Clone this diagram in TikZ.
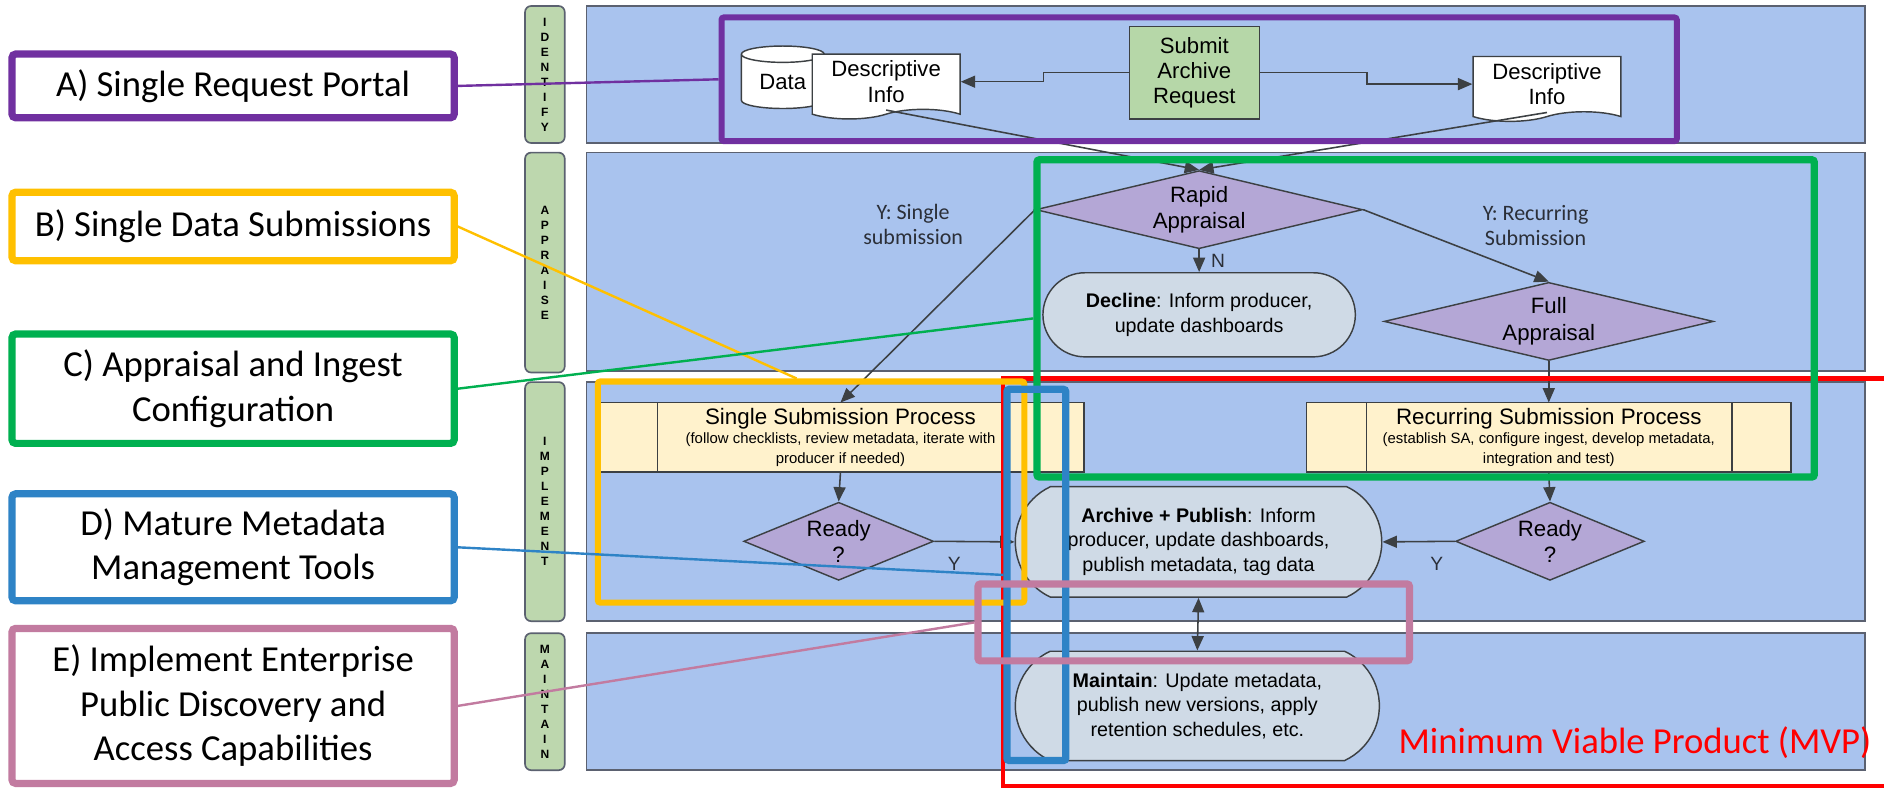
\documentclass[tikz,border=0pt]{standalone}
\usepackage{fontspec}
\setmainfont{Liberation Sans}
\newfontfamily\calibri{Carlito}
\usetikzlibrary{positioning,arrows.meta,shapes.geometric,shapes.misc,shapes.symbols}

\definecolor{lanefill}{HTML}{A9C3EE}
\definecolor{laneline}{HTML}{5B6170}
\definecolor{tagfill}{HTML}{BDD7AE}
\definecolor{stepfill}{HTML}{B6D7A8}
\definecolor{decfill}{HTML}{B4A7D6}
\definecolor{endfill}{HTML}{CFDAE6}
\definecolor{procfill}{HTML}{FFF2CC}
\definecolor{ink}{HTML}{3C4043}
\definecolor{notetext}{HTML}{2B2F38}
\definecolor{cpurple}{HTML}{7030A0}
\definecolor{corange}{HTML}{FFC000}
\definecolor{cgreen}{HTML}{00B050}
\definecolor{cblue}{HTML}{2E83C6}
\definecolor{cpink}{HTML}{C27BA0}

\tikzset{
  lane/.style={draw=laneline,fill=lanefill,line width=1.4pt,minimum width=1064pt,inner sep=0pt},
  lanetag/.style={draw=laneline,fill=tagfill,line width=1.4pt,rounded corners=5pt,minimum width=33pt,inner sep=0pt,align=center,font=\bfseries\fontsize{10}{12.5}\selectfont},
  docnode/.style={tape,tape bend top=none,tape bend bottom=in and out,tape bend height=8pt,draw=ink,fill=white,line width=1.2pt,minimum width=123pt,minimum height=54pt,inner sep=0pt,align=center,font=\fontsize{18.4}{21.5}\selectfont},
  stepbox/.style={rectangle,draw=ink,fill=stepfill,line width=1.2pt,inner sep=0pt,align=center,font=\fontsize{18.4}{21}\selectfont},
  choice/.style={diamond,draw=ink,fill=decfill,line width=1.2pt,inner sep=0pt,align=center,font=\fontsize{18.5}{22}\selectfont},
  terminal/.style={rounded rectangle,draw=ink,fill=endfill,line width=1.2pt,inner sep=0pt,align=center,font=\fontsize{16.4}{20.5}\selectfont},
  procbox/.style={rectangle,draw=ink,fill=procfill,line width=1.2pt,minimum height=58pt,inner sep=0pt,outer sep=0pt,align=center,font=\fontsize{12.4}{16}\selectfont},
  note/.style={align=center,text=notetext,font=\calibri\fontsize{18.3}{21}\selectfont},
  flow/.style={color=ink,line width=1.3pt,->},
  callout/.style={rectangle,draw=#1,fill=white,line width=6pt,rounded corners=3pt,minimum width=368pt,inner sep=0pt,align=center,font=\calibri\fontsize{30.5}{37}\selectfont},
  hilite/.style={rectangle,draw=#1,line width=6pt,rounded corners=2pt,inner sep=0pt},
  pointer/.style={draw=#1,line width=2pt}
}

\begin{document}
\begin{tikzpicture}[x=1pt,y=-1pt,>={Triangle[length=12pt,width=10pt]}]
\useasboundingbox (0,0) rectangle (1568,657);

% swimlanes
\node (identifylane) at (1020,62) [lane,minimum height=114pt] {};
\node (appraiselane) at (1020,218) [lane,minimum height=182pt] {};
\node (implementlane) at (1020,417.5) [lane,minimum height=199pt] {};
\node (maintainlane) at (1020,584) [lane,minimum height=114pt] {};
\node (identifytag) at (453.5,62) [lanetag,minimum height=114pt] {I\\D\\E\\N\\T\\I\\F\\Y};
\node (appraisetag) at (453.5,218.5) [lanetag,minimum height=183pt] {A\\P\\P\\R\\A\\I\\S\\E};
\node (implementtag) at (453.5,417.5) [lanetag,minimum height=199pt] {I\\M\\P\\L\\E\\M\\E\\N\\T};
\node (maintaintag) at (453.5,584) [lanetag,minimum height=114pt] {M\\A\\I\\N\\T\\A\\I\\N};

% identify
\node (data) at (651.5,68) [cylinder,shape border rotate=90,aspect=0.35,draw=ink,fill=white,line width=1.2pt,minimum width=69pt,minimum height=52pt,inner sep=0pt,font=\fontsize{18.4}{21}\selectfont] {Data};
\node (descl) at (737.5,68) [docnode] {Descriptive\\Info};
\node (submit) at (994,60.5) [stepbox,minimum width=108pt,minimum height=77pt] {Submit\\Archive\\Request};
\node (descr) at (1287.5,70) [docnode] {Descriptive\\Info};
\draw[flow] (submit.west) -- ++(-71,0) |- (descl.east);
\draw[flow] (submit.east) -- ++(89,0) |- (descr.west);

% appraise
\node (rapid) at (998,174.5) [choice,minimum width=272pt,minimum height=65pt,aspect=4.2] {Rapid\\Appraisal};
\node (decline) at (998,262) [terminal,minimum width=260pt,minimum height=70pt] {\textbf{Decline}: Inform producer,\\update dashboards};
\node (full) at (1289,267.5) [choice,minimum width=274pt,minimum height=65pt,aspect=4.2] {Full\\Appraisal};
\node (ysingle) at (760,187) [note] {Y: Single\\submission};
\node (yrecur) at (1278,188) [note] {Y: Recurring\\Submission};
\path[flow] (descl.south) edge (rapid.north);
\path[flow] (descr.south) edge (rapid.north);
\path[flow] (rapid.south) edge node[right=6pt,text=notetext,font=\fontsize{16}{18}\selectfont] {N} (decline.north);

% implement
\node (sproc) at (699.5,364) [procbox,minimum width=405pt] {{\fontsize{18.6}{16}\selectfont Single Submission Process}\\(follow checklists, review metadata, iterate with\\producer if needed)};
\node (rproc) at (1289,364) [procbox,minimum width=403pt] {{\fontsize{18.6}{16}\selectfont Recurring Submission Process}\\(establish SA, configure ingest, develop metadata,\\integration and test)};
\draw[ink,line width=1.2pt] ([xshift=50pt]sproc.north west) -- ([xshift=50pt]sproc.south west)
  ([xshift=-51pt]sproc.north east) -- ([xshift=-51pt]sproc.south east)
  ([xshift=50pt]rproc.north west) -- ([xshift=50pt]rproc.south west)
  ([xshift=-49pt]rproc.north east) -- ([xshift=-49pt]rproc.south east);
\node (readyl) at (698,450.5) [choice,minimum width=158pt,minimum height=65pt,aspect=2.4] {Ready\\?};
\node (readyr) at (1290,450.5) [choice,minimum width=157pt,minimum height=65pt,aspect=2.4] {Ready\\?};
\node (archive) at (997.5,451) [terminal,rounded rectangle arc length=130,minimum width=305pt,minimum height=92pt] {\textbf{Archive + Publish}: Inform\\producer, update dashboards,\\publish metadata, tag data};
\path[flow] (rapid.west) edge (sproc.north);
\path[flow] (rapid.east) edge (full.north);
\path[flow] (full.south) edge (rproc.north);
\path[flow] (sproc.south) edge (readyl.north);
\path[flow] (rproc.south) edge (readyr.north);
\path[flow] (readyl.east) edge node[pos=0.25,below=9pt,text=notetext,font=\fontsize{16}{18}\selectfont] {Y} (archive.west);
\path[flow] (readyr.west) edge node[pos=0.25,below=9pt,text=notetext,font=\fontsize{16}{18}\selectfont] {Y} (archive.east);

% maintain
\node (maintainbox) at (996.5,587.5) [terminal,rounded rectangle arc length=130,minimum width=303pt,minimum height=91pt] {\textbf{Maintain}: Update metadata,\\publish new versions, apply\\retention schedules, etc.};
\path[flow,<->] (archive.south) edge (maintainbox.north);

% highlights
\draw[red,line width=3.5pt] (1568,315) -- (835,315) -- (835,654) -- (1568,654);
\node (mvp) at (1561,627) [anchor=base east,text=red,font=\calibri\fontsize{30.5}{37}\selectfont] {Minimum Viable Product (MVP)};
\node (singlebox) at (675,409.5) [hilite=corange,line width=5pt,minimum width=355pt,minimum height=184pt] {};
\node (configbox) at (1186.5,265) [hilite=cgreen,minimum width=647pt,minimum height=264pt] {};
\node (metabox) at (862.5,478.5) [hilite=cblue,minimum width=49pt,minimum height=309pt] {};
\node (accessbox) at (993.5,518) [hilite=cpink,minimum width=359pt,minimum height=64pt] {};
\node (portalbox) at (998,66) [hilite=cpurple,line width=5pt,minimum width=795pt,minimum height=103pt] {};

% callouts
\node (portal) at (194,71.5) [callout=cpurple,minimum height=53pt] {A) Single Request Portal};
\node (single) at (194,188.5) [callout=corange,minimum height=57pt] {B) Single Data Submissions};
\node (config) at (194,323.5) [callout=cgreen,minimum height=91pt] {C) Appraisal and Ingest\\Configuration};
\node (meta) at (194,455.5) [callout=cblue,minimum height=89pt] {D) Mature Metadata\\Management Tools};
\node (access) at (194,587.5) [callout=cpink,minimum height=129pt] {E) Implement Enterprise\\Public Discovery and\\Access Capabilities};
\draw[pointer=cpurple] (portal.east) -- (portalbox.west);
\draw[pointer=corange] (single.east) -- ([xshift=168pt]singlebox.north west);
\draw[pointer=cgreen] (config.east) -- (configbox.west);
\draw[pointer=cblue] (meta.east) -- (metabox.west);
\draw[pointer=cpink] (access.east) -- (accessbox.west);
\end{tikzpicture}
\end{document}
